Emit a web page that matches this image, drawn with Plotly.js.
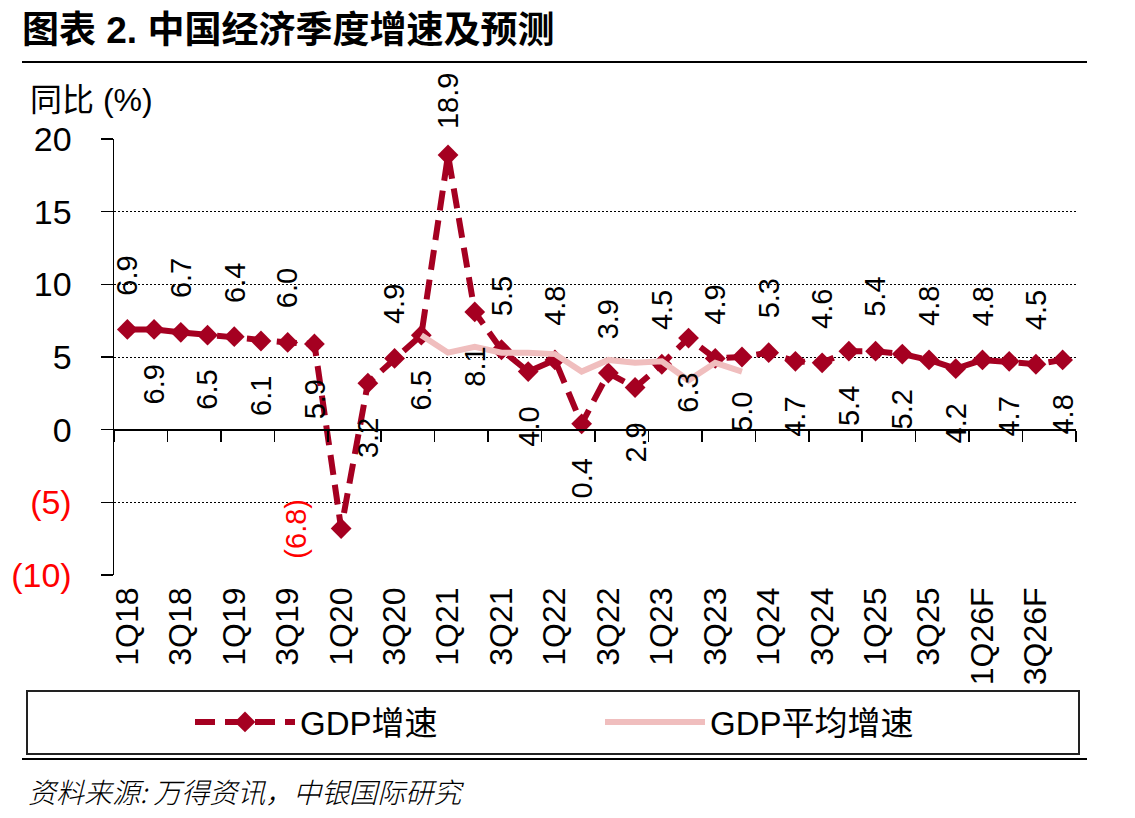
<!DOCTYPE html>
<html>
<head>
<meta charset="utf-8">
<script src="https://cdn.plot.ly/plotly-3.0.1.min.js"></script>
<style>html,body{margin:0;padding:0;background:#fff;}</style>
</head>
<body>
<div id="chart" style="width:1135px;height:818px;"></div>
<script>
// ---------- data ----------
const quarters = ['1Q18','2Q18','3Q18','4Q18','1Q19','2Q19','3Q19','4Q19',
  '1Q20','2Q20','3Q20','4Q20','1Q21','2Q21','3Q21','4Q21',
  '1Q22','2Q22','3Q22','4Q22','1Q23','2Q23','3Q23','4Q23',
  '1Q24','2Q24','3Q24','4Q24','1Q25','2Q25','3Q25','4Q25',
  '1Q26F','2Q26F','3Q26F','4Q26F'];
const gdpGrowth = [6.9, 6.9, 6.7, 6.5, 6.4, 6.1, 6.0, 5.9,
  -6.8, 3.2, 4.9, 6.5, 18.9, 8.1, 5.5, 4.0,
  4.8, 0.4, 3.9, 2.9, 4.5, 6.3, 4.9, 5.0,
  5.3, 4.7, 4.6, 5.4, 5.4, 5.2, 4.8, 4.2,
  4.8, 4.7, 4.5, 4.8];
const avgGrowth = [null, null, null, null, null, null, null, null,
  null, null, null, 6.5, 5.3, 5.7, 5.3, 5.3,
  5.2, 4.0, 4.8, 4.6, 4.7, 3.4, 4.6, 4.0,
  null, null, null, null, null, null, null, null,
  null, null, null, null];
const seriesNames = ['GDP增速', 'GDP平均增速'];
const yTickVals = [-10, -5, 0, 5, 10, 15, 20];
const yTickText = ['(10)', '(5)', '0', '5', '10', '15', '20'];
const titleText = '图表 2. 中国经济季度增速及预测';
const unitText = '同比 (%)';
const sourceText = '资料来源: 万得资讯，中银国际研究';

// ---------- styling ----------
const W = 1135, H = 818;
const L = 114, R = 1076, T = 139, B = 575;
const px2x = p => (p - L) / (R - L);
const py2y = p => (B - p) / (B - T);
const FONT = 'Liberation Sans, Arial, Noto Sans CJK SC, sans-serif';
const RED_DARK = '#A50021';
const PINK = '#F0BEBE';

const xIdx = quarters.map((q, i) => i);
const yMin = yTickVals[0], yMax = yTickVals[yTickVals.length - 1];
const xRange = [-0.5, quarters.length - 0.5];

const tickIdx = xIdx.filter(i => i % 2 === 0);
const boundaryTicks = [];
for (let i = 0; i <= quarters.length; i += 2) boundaryTicks.push(i - 0.5);

const fmt = v => v < 0 ? '(' + Math.abs(v).toFixed(1) + ')' : v.toFixed(1);

const traces = [
  {
    x: xIdx, y: gdpGrowth, type: 'scatter', mode: 'lines+markers',
    name: seriesNames[0], legend: 'legend',
    line: {color: RED_DARK, width: 6, dash: '20px,10px'},
    marker: {symbol: 'diamond', size: 16, color: RED_DARK},
    hoverinfo: 'skip'
  },
  {
    x: xIdx, y: avgGrowth, type: 'scatter', mode: 'lines',
    name: seriesNames[1], legend: 'legend2',
    line: {color: PINK, width: 6},
    connectgaps: false, hoverinfo: 'skip'
  },
  {
    x: xIdx, y: gdpGrowth, type: 'scatter', mode: 'none',
    xaxis: 'x2', yaxis: 'y', showlegend: false, hoverinfo: 'skip'
  }
];

const annotations = gdpGrowth.map((v, i) => {
  const a = {
    x: i, y: v, xref: 'x', yref: 'y', text: fmt(v), showarrow: false,
    textangle: -90, font: {family: FONT, size: 29, color: '#000'}
  };
  if (v < 0) { a.xshift = -45; a.font.color = '#FF0000'; }
  else { a.yshift = (i % 2 === 0) ? 54 : -55; }
  return a;
});

annotations.push({
  xref: 'paper', yref: 'paper', x: px2x(28), y: py2y(100),
  xanchor: 'left', yanchor: 'middle', text: unitText, showarrow: false,
  font: {family: FONT, size: 32, color: '#000'}
});
annotations.push({
  xref: 'paper', yref: 'paper', x: px2x(26), y: py2y(791),
  xanchor: 'left', yanchor: 'middle', text: sourceText, showarrow: false,
  font: {family: 'Noto Sans CJK SC, sans-serif', size: 28, color: '#000', style: 'italic', weight: 300}
});

const shapes = [
  {type: 'line', xref: 'paper', yref: 'paper', x0: px2x(22), x1: px2x(1087), y0: py2y(62), y1: py2y(62),
   line: {color: '#000', width: 2}},
  {type: 'rect', xref: 'paper', yref: 'paper', x0: px2x(27), x1: px2x(1079), y0: py2y(754), y1: py2y(691),
   line: {color: '#222', width: 2}},
  {type: 'line', xref: 'paper', yref: 'paper', x0: px2x(22), x1: px2x(1087), y0: py2y(759), y1: py2y(759),
   line: {color: '#000', width: 2}}
];

const layout = {
  width: W, height: H,
  margin: {l: L, r: W - R, t: T, b: H - B, pad: 0},
  paper_bgcolor: '#fff', plot_bgcolor: '#fff',
  font: {family: FONT, color: '#000'},
  title: {
    text: titleText, xref: 'container', yref: 'container',
    x: 22 / W, xanchor: 'left', y: 1 - 30 / H, yanchor: 'middle',
    font: {family: 'Liberation Sans, Noto Sans CJK SC, sans-serif', size: 37, weight: 'bold', color: '#000'}
  },
  showlegend: true,
  legend: {
    x: px2x(190), y: py2y(722), xanchor: 'left', yanchor: 'middle',
    orientation: 'h', bgcolor: 'rgba(0,0,0,0)', borderwidth: 0,
    itemwidth: 100, font: {family: FONT, size: 33, color: '#000'}
  },
  legend2: {
    x: px2x(600), y: py2y(722), xanchor: 'left', yanchor: 'middle',
    orientation: 'h', bgcolor: 'rgba(0,0,0,0)', borderwidth: 0,
    itemwidth: 100, font: {family: FONT, size: 33, color: '#000'}
  },
  xaxis: {
    range: xRange, showgrid: false, zeroline: false, showline: false,
    tickmode: 'array', tickvals: tickIdx, ticktext: tickIdx.map(i => quarters[i]),
    tickangle: -90, ticks: '', ticklabelstandoff: 5,
    tickfont: {family: FONT, size: 32, color: '#000'}, fixedrange: true
  },
  xaxis2: {
    overlaying: 'x', anchor: 'free', position: (0 - yMin) / (yMax - yMin), side: 'bottom',
    range: xRange, showgrid: false, zeroline: false, showline: true,
    linecolor: '#000', linewidth: 2,
    tickmode: 'array', tickvals: boundaryTicks, showticklabels: false,
    ticks: 'outside', ticklen: 11, tickwidth: 1.5, tickcolor: '#000', fixedrange: true
  },
  yaxis: {
    range: [yMin, yMax], zeroline: false, showline: true, linecolor: '#000', linewidth: 1.5,
    showgrid: true, gridcolor: '#000', gridwidth: 1, griddash: '2px,2px',
    tickmode: 'array', tickvals: yTickVals,
    ticktext: yTickText.map((t, i) => yTickVals[i] < 0 ? '<span style="color:#FF0000">' + t + '</span>' : t),
    ticks: 'outside', ticklen: 12, tickwidth: 1.5, tickcolor: '#000',
    ticklabelstandoff: 22,
    tickfont: {family: FONT, size: 34, color: '#000'}, fixedrange: true
  },
  annotations: annotations,
  shapes: shapes
};

Plotly.newPlot('chart', traces, layout, {staticPlot: true, displayModeBar: false});
</script>
</body>
</html>
